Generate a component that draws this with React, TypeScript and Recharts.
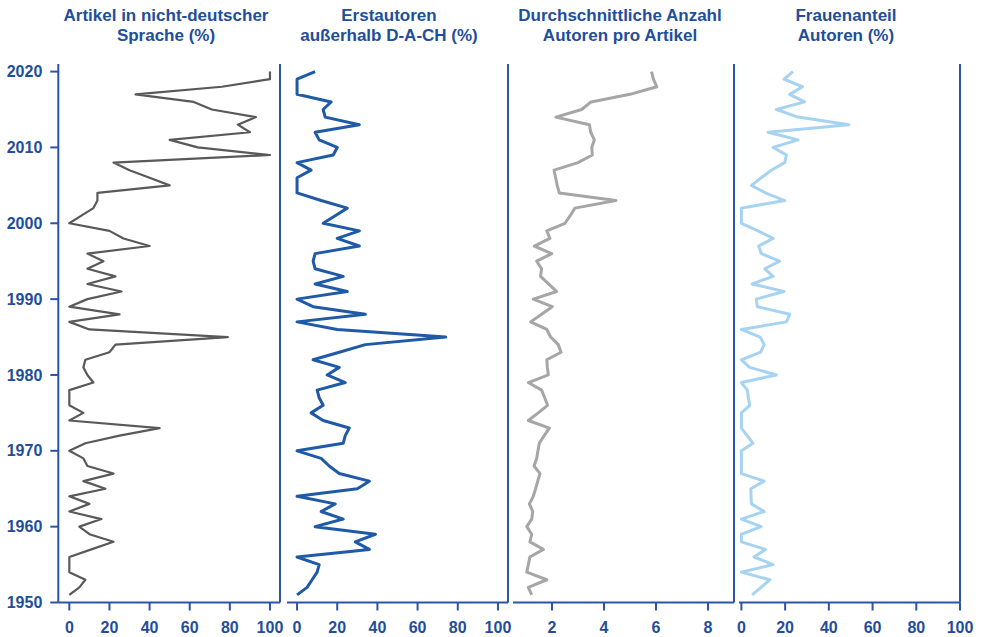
import React from 'react';
import { ScatterChart, Scatter, XAxis, YAxis, ReferenceLine } from 'recharts';

const years = [
  1951, 1952, 1953, 1954, 1955, 1956, 1957, 1958, 1959, 1960,
  1961, 1962, 1963, 1964, 1965, 1966, 1967, 1968, 1969, 1970,
  1971, 1972, 1973, 1974, 1975, 1976, 1977, 1978, 1979, 1980,
  1981, 1982, 1983, 1984, 1985, 1986, 1987, 1988, 1989, 1990,
  1991, 1992, 1993, 1994, 1995, 1996, 1997, 1998, 1999, 2000,
  2001, 2002, 2003, 2004, 2005, 2006, 2007, 2008, 2009, 2010,
  2011, 2012, 2013, 2014, 2015, 2016, 2017, 2018, 2019, 2020,
];

const nonGerman = [
  0, 5, 8, 0, 0, 0, 11, 22, 10, 5,
  16, 0, 10, 0, 18, 7, 22, 9, 7, 0,
  8, 25, 45, 0, 7, 0, 0, 0, 12, 9,
  7, 8, 20, 23, 79, 10, 0, 25, 0, 9,
  26, 9, 23, 9, 17, 9, 40, 27, 20, 0,
  6, 12, 14, 14, 50, 40, 30, 22, 100, 64,
  50, 90, 84, 93, 71, 62, 33, 76, 100, 100,
];

const firstAuthorsAbroad = [
  0, 5, 7.5, 10, 11, 0, 36, 29, 39, 9,
  23, 12, 19, 0, 30, 36, 21, 16, 12, 0,
  23, 24, 26, 13, 7, 13, 11, 10, 24, 15,
  21, 8, 21, 34, 74, 20, 0, 34, 8, 0,
  25, 9, 23, 9, 8, 9, 31, 20, 31, 13,
  19, 25, 12, 0, 0, 0, 7, 0, 18, 20,
  11, 9, 31, 14, 13, 17, 0, 0, 0, 9,
];

const authorsPerArticle = [
  1.22, 1.09, 1.8, 1.03, 1.09, 1.15, 1.67, 1.15, 1.22, 1.03,
  1.22, 1.26, 1.13, 1.28, 1.37, 1.45, 1.54, 1.31, 1.41, 1.46,
  1.51, 1.7, 1.9, 1.09, 1.47, 1.83, 1.72, 1.6, 1.09, 1.86,
  1.82, 1.8, 2.35, 2.24, 1.95, 1.8, 1.18, 1.6, 2.01, 1.28,
  2.18, 1.87, 1.56, 1.6, 1.41, 1.99, 1.32, 1.92, 1.8, 2.5,
  2.7, 2.88, 4.46, 2.28, 2.2, 2.14, 2.08, 3.0, 3.55, 3.53,
  3.63, 3.49, 3.44, 2.15, 3.14, 3.5, 5.0, 6.03, 5.9, 5.83,
];

const womenShare = [
  4.9, 9, 13, 0, 14.5, 5.8, 11, 0, 0, 9,
  0, 10.4, 4.6, 4.4, 4.3, 10.4, 0, 0, 0, 0,
  5.3, 2.6, 0, 0, 0, 3.8, 3.2, 2.7, 0, 16,
  3.8, 0, 8.8, 10.4, 8.6, 0, 20.6, 22.1, 7.3, 6.8,
  19.5, 4.9, 14.5, 10.7, 17.5, 9.1, 7.9, 14.5, 7.6, 0,
  0, 0, 19.8, 11, 4.6, 9.1, 13.7, 19.8, 20.6, 14.5,
  25.9, 12.2, 49.2, 25.9, 16, 28.9, 22.1, 27.9, 19.5, 23.6,
];

const titles = [
  ['Artikel in nicht-deutscher', 'Sprache (%)'],
  ['Erstautoren', 'außerhalb D-A-CH (%)'],
  ['Durchschnittliche Anzahl', 'Autoren pro Artikel'],
  ['Frauenanteil', 'Autoren (%)'],
];

const yearTicks = [1950, 1960, 1970, 1980, 1990, 2000, 2010, 2020];
const pctTicks = [0, 20, 40, 60, 80, 100];
const countTicks = [2, 4, 6, 8];

const AXIS = '#2C55A8';
const TEXT = '#1F4E9A';
const FONT = '"Liberation Sans", Arial, sans-serif';

const H = 637;
const PLOT_TOP = 64;
const PLOT_BOTTOM = 602.5;
const XAX_H = 30;
const M = 14;

const toRows = (vals: number[]) => years.map((y, i) => ({ year: y, v: vals[i] }));

const panels = [
  { vals: nonGerman, color: '#595959', sw: 2.2, left: 58.3, right: 280, domain: [-5.5, 105], ticks: pctTicks, titleX: 166 },
  { vals: firstAuthorsAbroad, color: '#1F5AA6', sw: 3, left: 287.3, right: 508.3, domain: [-5, 105], ticks: pctTicks, titleX: 389 },
  { vals: authorsPerArticle, color: '#A6A6A6', sw: 3, left: 513.3, right: 734.3, domain: [0.5, 9], ticks: countTicks, titleX: 620 },
  { vals: womenShare, color: '#A7D3F2', sw: 3, left: 739.3, right: 960.3, domain: [-1.1, 100], ticks: pctTicks, titleX: 846 },
];

const tickStyle = { fill: TEXT, fontSize: 16, fontWeight: 700, fontFamily: FONT };

const NoShape = () => <g />;

export default function App() {
  return (
    <div style={{ position: 'absolute', left: 0, top: 0, width: 983, height: 637, background: '#fff', fontFamily: FONT }}>
      {panels.map((p, idx) => {
        const first = idx === 0;
        const chartLeft = first ? 0 : p.left - M;
        const width = first ? p.right + M : p.right - p.left + 2 * M;
        return (
          <div key={idx} style={{ position: 'absolute', left: chartLeft, top: 0 }}>
            <ScatterChart
              width={width}
              height={H}
              margin={{ top: PLOT_TOP, right: M, bottom: H - PLOT_BOTTOM - XAX_H, left: first ? 0 : M }}
            >
              <XAxis
                type="number"
                dataKey="v"
                domain={p.domain}
                ticks={p.ticks}
                interval={0}
                allowDataOverflow
                height={XAX_H}
                tickSize={8}
                tickMargin={11}
                axisLine={{ stroke: AXIS, strokeWidth: 2 }}
                tickLine={{ stroke: AXIS, strokeWidth: 2 }}
                tick={tickStyle}
              />
              <YAxis
                type="number"
                dataKey="year"
                domain={[1950, 2021]}
                ticks={yearTicks}
                interval={0}
                allowDataOverflow
                hide={!first}
                width={first ? p.left : 0}
                tickSize={8}
                tickMargin={8}
                axisLine={{ stroke: AXIS, strokeWidth: 2 }}
                tickLine={{ stroke: AXIS, strokeWidth: 2 }}
                tick={tickStyle}
              />
              <ReferenceLine x={p.domain[1]} stroke={AXIS} strokeWidth={2} />
              <Scatter
                data={toRows(p.vals)}
                fill={p.color}
                line={{ stroke: p.color, strokeWidth: p.sw, strokeLinejoin: 'round' }}
                shape={NoShape}
                isAnimationActive={false}
              />
            </ScatterChart>
          </div>
        );
      })}
      {panels.map((p, idx) => (
        <div
          key={'t' + idx}
          style={{
            position: 'absolute',
            left: p.titleX - 130,
            top: 6,
            width: 260,
            textAlign: 'center',
            color: TEXT,
            fontSize: 17,
            fontWeight: 700,
            lineHeight: '20px',
            fontFamily: FONT,
          }}
        >
          <div>{titles[idx][0]}</div>
          <div>{titles[idx][1]}</div>
        </div>
      ))}
    </div>
  );
}
